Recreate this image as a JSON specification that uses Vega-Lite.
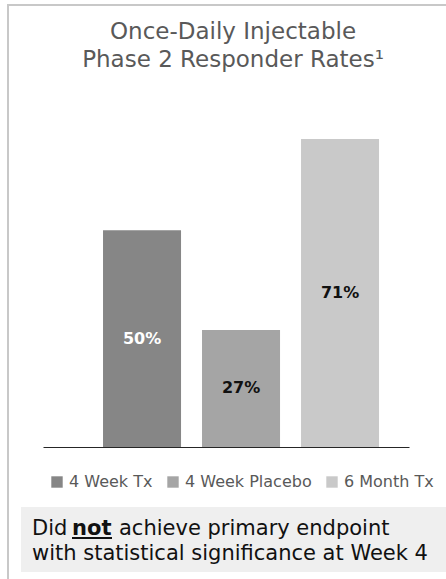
{
  "$schema": "https://vega.github.io/schema/vega-lite/v6.json",
  "width": 366,
  "height": 347,
  "autosize": "none",
  "padding": {"left": 43, "top": 100, "right": 37, "bottom": 132},
  "background": "white",
  "config": {"view": {"stroke": null}, "font": "DejaVu Sans"},
  "title": {
    "text": ["Once-Daily Injectable", "Phase 2 Responder Rates¹"],
    "fontSize": 23,
    "fontWeight": "normal",
    "color": "#595959",
    "anchor": "middle",
    "dx": 7,
    "offset": -68,
    "lineHeight": 28
  },
  "data": {
    "values": [
      {"group": "4 Week Tx", "value": 50, "label": "50%"},
      {"group": "4 Week Placebo", "value": 27, "label": "27%"},
      {"group": "6 Month Tx", "value": 71, "label": "71%"}
    ]
  },
  "layer": [
    {
      "data": {"values": [{"k": "frame"}]},
      "mark": {"type": "rect", "fill": null, "stroke": "#c8c8c8", "strokeWidth": 2},
      "encoding": {
        "x": {"value": -35},
        "x2": {"value": 420},
        "y": {"value": -95},
        "y2": {"value": 500}
      }
    },
    {
      "mark": {"type": "bar"},
      "encoding": {
        "x": {
          "field": "group",
          "type": "nominal",
          "sort": ["4 Week Tx", "4 Week Placebo", "6 Month Tx"],
          "scale": {"paddingInner": 0.212, "paddingOuter": 0.4545, "align": 0.667},
          "axis": {"labels": false, "ticks": false, "title": null, "domainColor": "#262626", "domainWidth": 1}
        },
        "y": {
          "field": "value",
          "type": "quantitative",
          "scale": {"domain": [0, 80]},
          "axis": null
        },
        "color": {
          "field": "group",
          "type": "nominal",
          "sort": ["4 Week Tx", "4 Week Placebo", "6 Month Tx"],
          "scale": {"range": ["#868686", "#a5a5a5", "#c9c9c9"]},
          "legend": {
            "orient": "none",
            "legendX": 6,
            "legendY": 374,
            "direction": "horizontal",
            "title": null,
            "symbolType": "square",
            "symbolSize": 130,
            "symbolStrokeWidth": 0,
            "symbolOpacity": 1,
            "labelFontSize": 16,
            "labelColor": "#595959",
            "labelOffset": 4,
            "columnPadding": 12
          }
        }
      }
    },
    {
      "transform": [{"calculate": "datum.value / 2", "as": "mid"}],
      "mark": {"type": "text", "fontSize": 16, "fontWeight": "bold", "baseline": "middle", "align": "center"},
      "encoding": {
        "x": {"field": "group", "type": "nominal", "sort": ["4 Week Tx", "4 Week Placebo", "6 Month Tx"]},
        "y": {"field": "mid", "type": "quantitative"},
        "text": {"field": "label"},
        "color": {
          "condition": {"test": "datum.group === '4 Week Tx'", "value": "#ffffff"},
          "value": "#111111"
        }
      }
    },
    {
      "data": {"values": [{"k": "box"}]},
      "mark": {"type": "rect", "fill": "#efefef"},
      "encoding": {
        "x": {"value": -22},
        "x2": {"value": 410},
        "y": {"value": 407},
        "y2": {"value": 472}
      }
    },
    {
      "data": {"values": [{"t": "Did"}]},
      "mark": {"type": "text", "fontSize": 21, "align": "left", "baseline": "alphabetic", "color": "#111111"},
      "encoding": {"x": {"value": -11}, "y": {"value": 435}, "text": {"field": "t"}}
    },
    {
      "data": {"values": [{"t": "not"}]},
      "mark": {"type": "text", "fontSize": 21, "fontWeight": "bold", "align": "left", "baseline": "alphabetic", "color": "#111111"},
      "encoding": {"x": {"value": 29}, "y": {"value": 435}, "text": {"field": "t"}}
    },
    {
      "data": {"values": [{"t": "underline"}]},
      "mark": {"type": "rule", "stroke": "#111111", "strokeWidth": 2},
      "encoding": {"x": {"value": 29}, "x2": {"value": 69}, "y": {"value": 438}}
    },
    {
      "data": {"values": [{"t": "achieve primary endpoint"}]},
      "mark": {"type": "text", "fontSize": 21, "align": "left", "baseline": "alphabetic", "color": "#111111"},
      "encoding": {"x": {"value": 76}, "y": {"value": 435}, "text": {"field": "t"}}
    },
    {
      "data": {"values": [{"t": "with statistical significance at Week 4"}]},
      "mark": {"type": "text", "fontSize": 21, "align": "left", "baseline": "alphabetic", "color": "#111111"},
      "encoding": {"x": {"value": -11}, "y": {"value": 460}, "text": {"field": "t"}}
    }
  ]
}
